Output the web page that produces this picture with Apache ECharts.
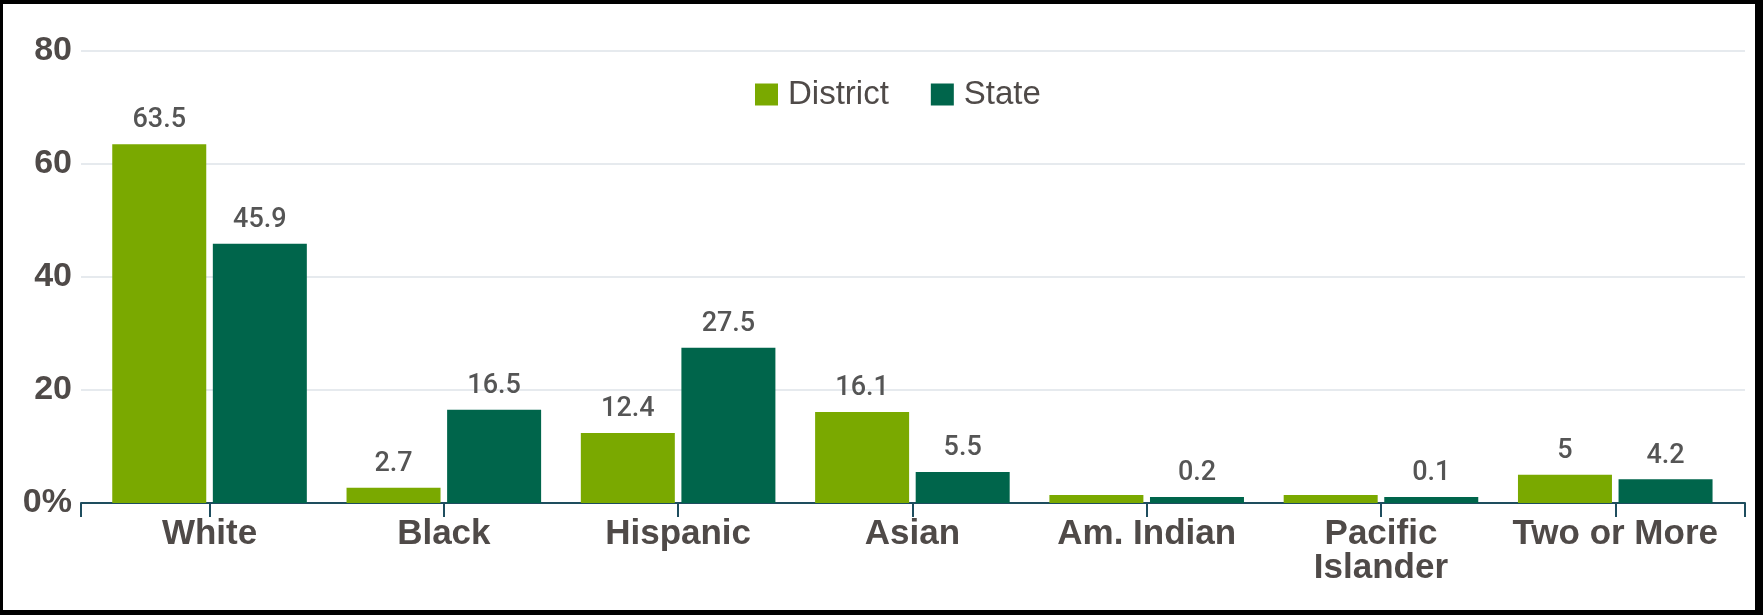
<!DOCTYPE html>
<html>
<head>
<meta charset="utf-8">
<script src="https://cdn.jsdelivr.net/npm/echarts@6/dist/echarts.min.js"></script>
<style>
  html, body { margin: 0; padding: 0; background: #000; }
  #chart { position: absolute; left: 3px; top: 4px; width: 1752px; height: 606px; background: #fff; }
</style>
</head>
<body>
<div id="chart"></div>
<script>
const categories = ['White', 'Black', 'Hispanic', 'Asian', 'Am. Indian', 'Pacific\nIslander', 'Two or More'];
const districtValues = [63.5, 2.7, 12.4, 16.1, 0, 0, 5];
const stateValues = [45.9, 16.5, 27.5, 5.5, 0.2, 0.1, 4.2];
const yTicks = [0, 20, 40, 60, 80];

const districtColor = '#7aa900';
const stateColor = '#00654b';
const axisColor = '#1e4d5e';
const textColor = '#4f4a48';

const chart = echarts.init(document.getElementById('chart'));

const barLabel = {
  show: true,
  position: 'top',
  distance: 10,
  color: '#555',
  fontFamily: 'Roboto',
  fontWeight: 500,
  fontSize: 27,
  formatter: p => (p.value === 0 ? '' : String(p.value))
};

let option = {
  animation: false,
  legend: {
    data: ['District', 'State'],
    left: 747,
    top: 69,
    itemWidth: 23,
    itemHeight: 22,
    itemGap: 42,
    icon: 'rect',
    textStyle: {
      color: textColor,
      fontFamily: 'Liberation Sans',
      fontSize: 33,
      padding: [0, 0, 0, 5]
    }
  },
  grid: [
    // bars
    {left: 89.4, top: 47, width: 1640, height: 452},
    // frame: gridlines + axis line
    {left: 78, top: 47, width: 1664, height: 452}
  ],
  xAxis: [
    {
      gridIndex: 0,
      type: 'category',
      data: categories,
      axisLine: {show: false},
      axisTick: {show: true, alignWithLabel: true, length: 14, lineStyle: {color: axisColor, width: 2}},
      axisLabel: {
        margin: 14,
        color: textColor,
        fontFamily: 'Liberation Sans',
        fontWeight: 'bold',
        fontSize: 35,
        lineHeight: 34,
        interval: 0
      }
    },
    {
      gridIndex: 1,
      type: 'value',
      min: 0,
      max: 1,
      interval: 1,
      axisLine: {show: true, onZero: false, lineStyle: {color: axisColor, width: 2}},
      axisTick: {show: true, length: 14, lineStyle: {color: axisColor, width: 2}},
      axisLabel: {show: false},
      splitLine: {show: false}
    }
  ],
  yAxis: [
    {
      gridIndex: 0,
      type: 'value',
      min: 0,
      max: 80,
      interval: 20,
      axisLine: {show: false},
      axisTick: {show: false},
      axisLabel: {show: false},
      splitLine: {show: false}
    },
    {
      gridIndex: 1,
      type: 'value',
      min: yTicks[0],
      max: yTicks[yTicks.length - 1],
      interval: 20,
      axisLine: {show: false},
      axisTick: {show: false},
      axisLabel: {
        margin: 9,
        color: textColor,
        fontFamily: 'Liberation Sans',
        fontWeight: 'bold',
        fontSize: 34,
        formatter: v => (v === 0 ? '0%' : String(v))
      },
      splitLine: {show: true, lineStyle: {color: '#e6eaee', width: 2}}
    }
  ],
  series: [
    {
      name: 'District',
      type: 'bar',
      xAxisIndex: 0,
      yAxisIndex: 0,
      data: districtValues,
      barWidth: 94,
      barGap: '7%',
      barMinHeight: 8,
      itemStyle: {color: districtColor},
      label: barLabel,
      z: 3
    },
    {
      name: 'State',
      type: 'bar',
      xAxisIndex: 0,
      yAxisIndex: 0,
      data: stateValues,
      barWidth: 94,
      barGap: '7%',
      barMinHeight: 6,
      itemStyle: {color: stateColor},
      label: barLabel,
      z: 3
    }
  ]
};
chart.setOption(option);
</script>
</body>
</html>
